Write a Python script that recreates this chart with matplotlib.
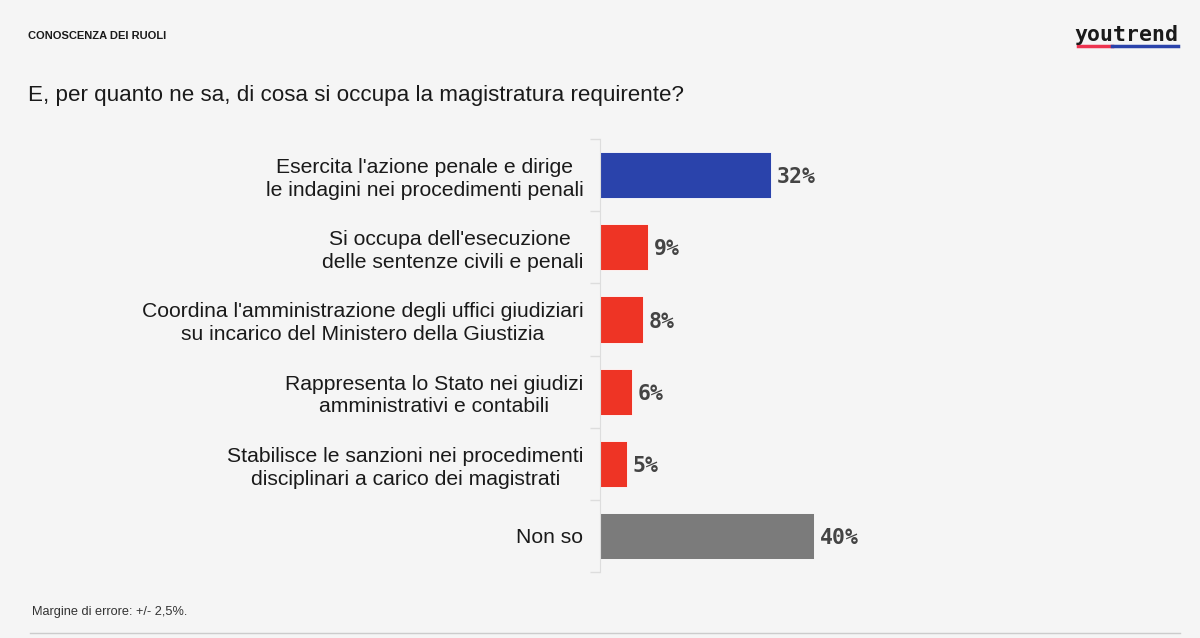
import matplotlib.pyplot as plt
import numpy as np

categorie = [
    "Esercita l'azione penale e dirige\nle indagini nei procedimenti penali",
    "Si occupa dell'esecuzione \ndelle sentenze civili e penali",
    "Coordina l'amministrazione degli uffici giudiziari\nsu incarico del Ministero della Giustizia",
    "Rappresenta lo Stato nei giudizi\namministrativi e contabili",
    "Stabilisce le sanzioni nei procedimenti\ndisciplinari a carico dei magistrati",
    "Non so",
]
valori = [32, 9, 8, 6, 5, 40]
colori = ['#2a43ab', '#ee3425', '#ee3425', '#ee3425', '#ee3425', '#7b7b7b']

plt.rcParams['font.family'] = ['Liberation Sans', 'DejaVu Sans']
bg = '#f5f5f5'

fig = plt.figure(figsize=(12, 6.38), dpi=100, facecolor=bg)
ax = fig.add_axes([0.5, 0.1034, 0.4833, 0.6787], facecolor=bg)

y = np.arange(len(valori))
ax.barh(y, valori, height=0.64, color=colori, edgecolor='#ffffff', linewidth=0.6)
ax.set_xlim(0, 580 / 5.35)
ax.set_ylim(len(valori) - 0.5, -0.5)

for yi, v in zip(y, valori):
    ax.text(v + 1.1, yi + 0.03, f'{v}%', va='center', ha='left', fontsize=15.5,
            fontweight='bold', family='DejaVu Sans Mono', color='#444444')

ax.set_yticks(y)
ax.set_yticklabels(categorie, fontsize=15.2, color='#1a1a1a', linespacing=1.25)
for t in ax.get_yticklabels():
    t.set_multialignment('center')
ax.tick_params(axis='y', which='major', length=0, pad=12)
ax.set_yticks(np.arange(-0.5, len(valori)), minor=True)
ax.tick_params(axis='y', which='minor', length=7, color='#dddddd', width=1)
ax.set_xticks([])
for s in ['top', 'right', 'bottom']:
    ax.spines[s].set_visible(False)
ax.spines['left'].set_color('#dddddd')

# intestazione
fig.text(28 / 1200, 1 - 36 / 638, 'CONOSCENZA DEI RUOLI', fontsize=8, fontweight='bold',
         color='#1a1a1a', va='center', ha='left')
fig.text(28 / 1200, 1 - 95 / 638, 'E, per quanto ne sa, di cosa si occupa la magistratura requirente?',
         fontsize=16.1, color='#1a1a1a', va='center', ha='left')

# logo
fig.text(1178 / 1200, 1 - 41 / 638, 'youtrend', fontsize=15.5, fontweight='bold',
         family='DejaVu Sans Mono', color='#1a1a1a', va='baseline', ha='right')
fig.add_artist(plt.Line2D([1078 / 1200, 1112 / 1200], [1 - 46 / 638] * 2, color='#ee3450', lw=2.5))
fig.add_artist(plt.Line2D([1112 / 1200, 1178 / 1200], [1 - 46 / 638] * 2, color='#2a43ab', lw=2.5))

# note
fig.text(32 / 1200, 1 - 612 / 638, 'Margine di errore: +/- 2,5%.', fontsize=9.2,
         color='#333333', va='center', ha='left')
fig.add_artist(plt.Line2D([30 / 1200, 1180 / 1200], [1 - 633 / 638] * 2, color='#cccccc', lw=1))

fig.savefig('out.png', dpi=100, facecolor=bg)
